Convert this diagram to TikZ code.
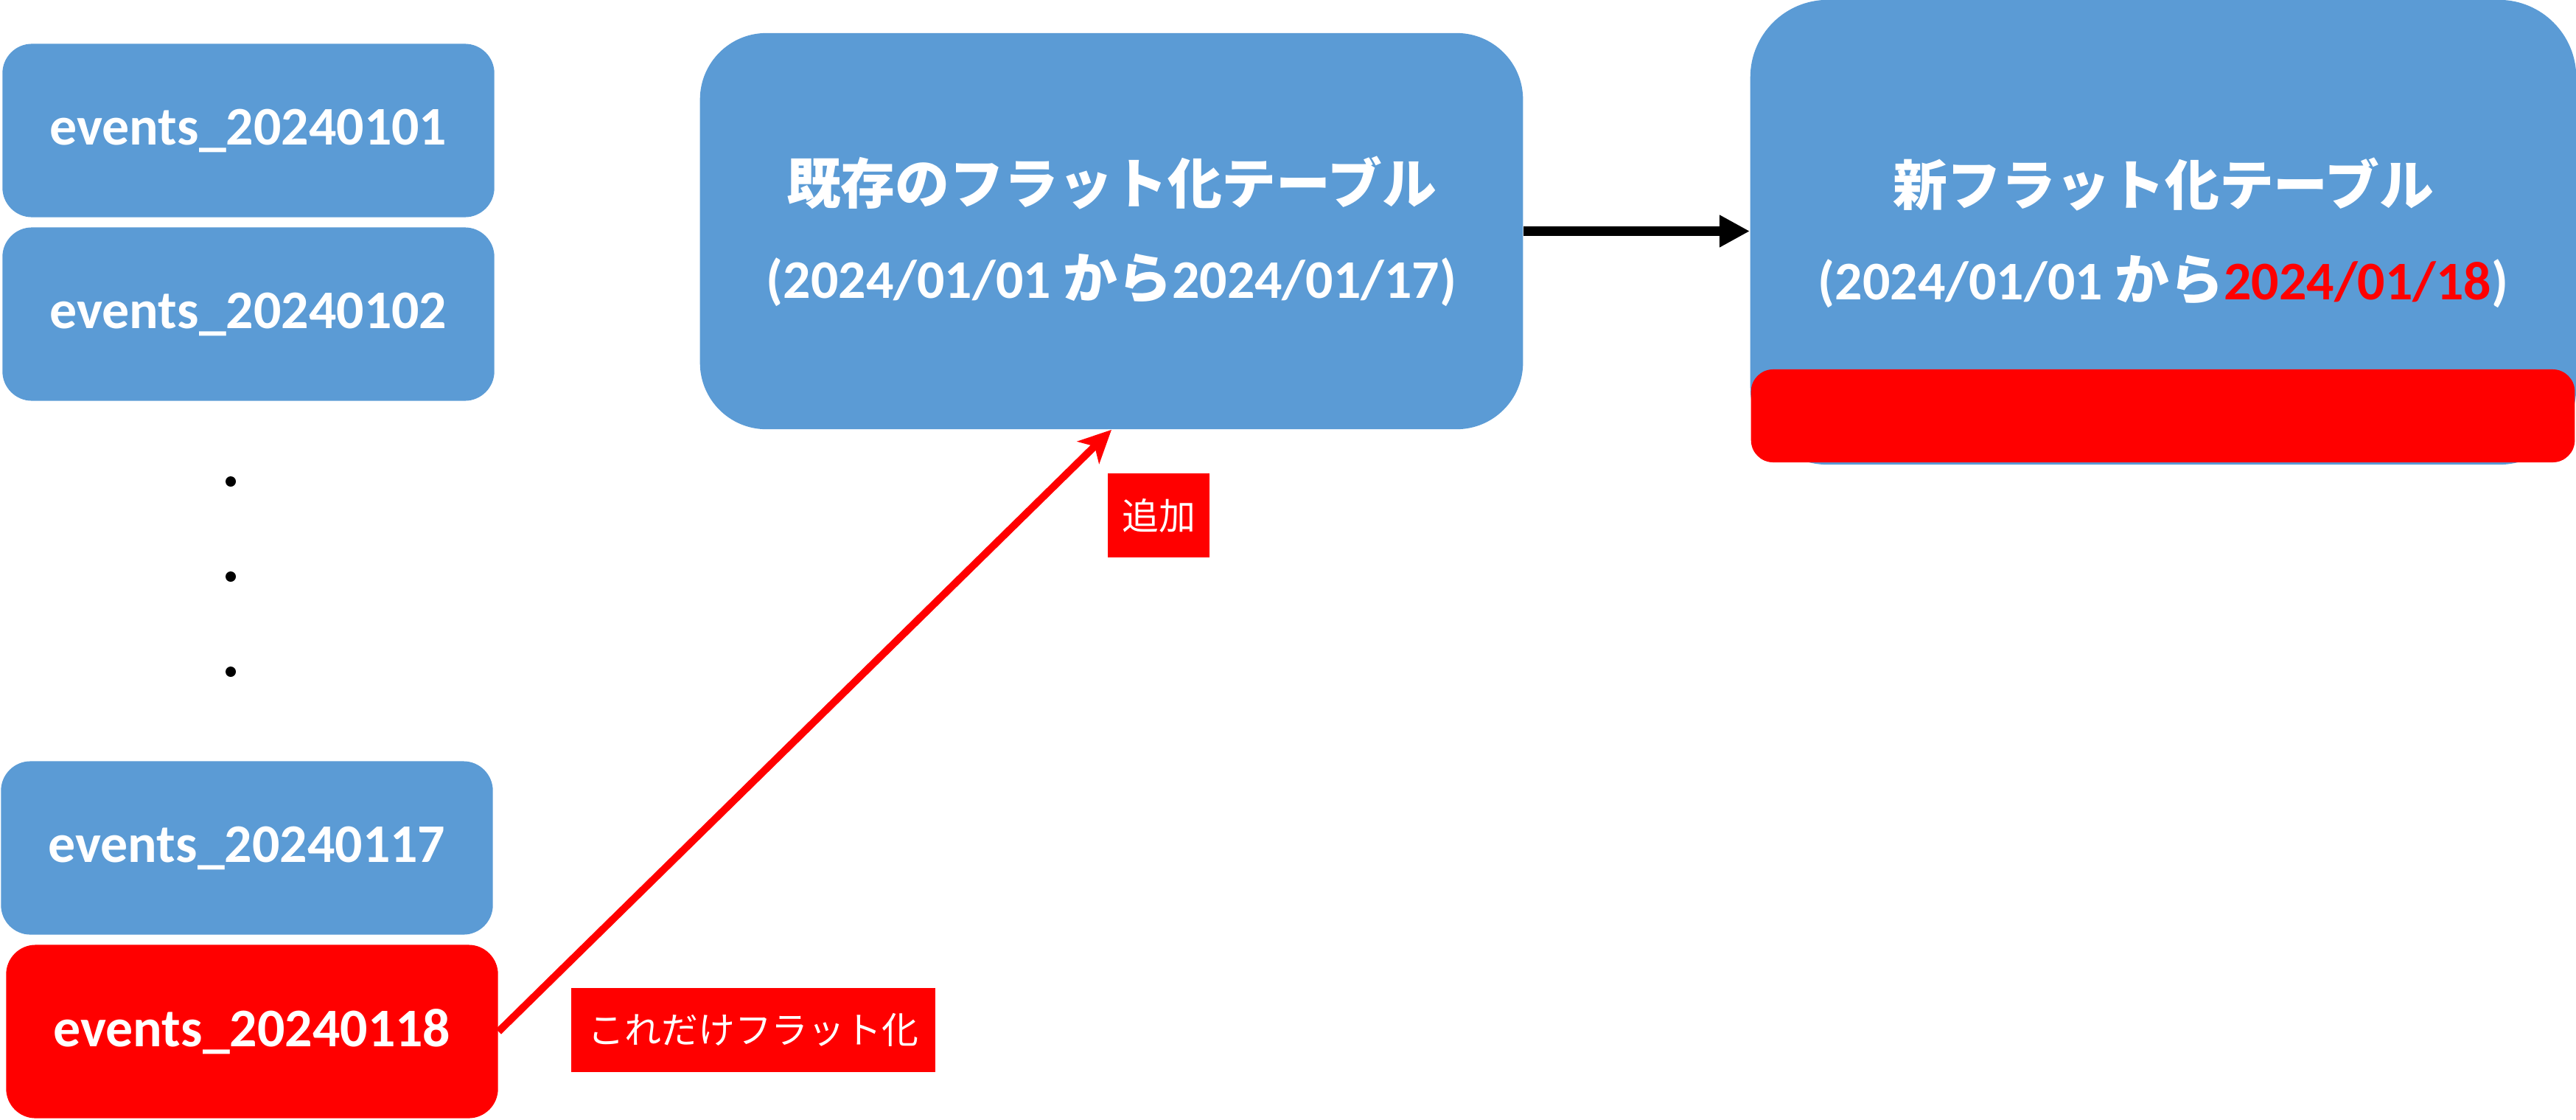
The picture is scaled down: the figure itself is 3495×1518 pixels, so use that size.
\documentclass[tikz,border=0pt]{standalone}
\usepackage{fontspec}
\setmainfont{Carlito}
\newfontfamily\cjk{Noto Sans CJK JP}
\usetikzlibrary{arrows.meta}
\definecolor{tblue}{HTML}{5B9BD5}
\definecolor{tred}{HTML}{FF0000}
\begin{document}
\begin{tikzpicture}[x=0.01cm,y=-0.01cm,
  evbox/.style={fill=tblue, draw=none, rounded corners=0.4cm, minimum width=6.67cm, minimum height=2.35cm,
    text=white, font=\fontsize{21}{25}\selectfont\bfseries, inner sep=0pt},
  bigbox/.style={fill=tblue, draw=none, text=white, align=center, inner sep=0pt,
    font=\fontsize{21}{36.4}\selectfont\bfseries},
  lbl/.style={fill=tred, draw=none, text=white, inner sep=0pt,
    font=\cjk\fontsize{14.2}{17}\selectfont},
  dotmark/.style={fill=black, draw=none, circle, minimum size=0.14cm, inner sep=0pt}
]
\useasboundingbox (0,0) rectangle (3495,1518);
\node[evbox] (e1) at (337,177) {events\_20240101};
\node[evbox] (e2) at (337,426) {events\_20240102};
\node[dotmark] (d1) at (313,653) {};
\node[dotmark] (d2) at (313,782) {};
\node[dotmark] (d3) at (313,911) {};
\node[evbox] (e17) at (335,1150) {events\_20240117};
\node[evbox, fill=tred] (e18) at (342,1399) {events\_20240118};

\node[bigbox, rounded corners=0.9cm, minimum width=11.16cm, minimum height=5.37cm] (exist) at (1508,313.5)
  {{\cjk\bfseries 既存のフラット化テーブル}\\(2024/01/01 {\cjk から}2024/01/17)};

\node[fill=tblue, draw=none, rounded corners=1.05cm, minimum width=11.2cm, minimum height=6.3cm, inner sep=0pt] (new) at (2935,315) {};
\node[fill=tred, draw=none, rounded corners=0.3cm, minimum width=11.17cm, minimum height=1.26cm, inner sep=0pt] (bar) at (2934.5,564) {};
\node[bigbox, fill=none] (newtext) at (2935,316)
  {{\cjk\bfseries 新フラット化テーブル}\\(2024/01/01 {\cjk から}\textcolor{tred}{2024/01/18})};

\node[lbl, minimum width=1.37cm, minimum height=1.14cm] (add) at (1572,699) {追加};
\node[lbl, minimum width=4.93cm, minimum height=1.13cm] (only) at (1022,1397) {これだけフラット化};

\draw[line width=0.13cm, -{Triangle[length=0.41cm,width=0.41cm]}] (exist.east) -- (exist.east -| new.west);
\draw[tred, line width=0.1cm, -{Stealth[length=0.44cm,width=0.42cm,inset=0.12cm]}] (e18.east) -- (exist.south);
\end{tikzpicture}
\end{document}
